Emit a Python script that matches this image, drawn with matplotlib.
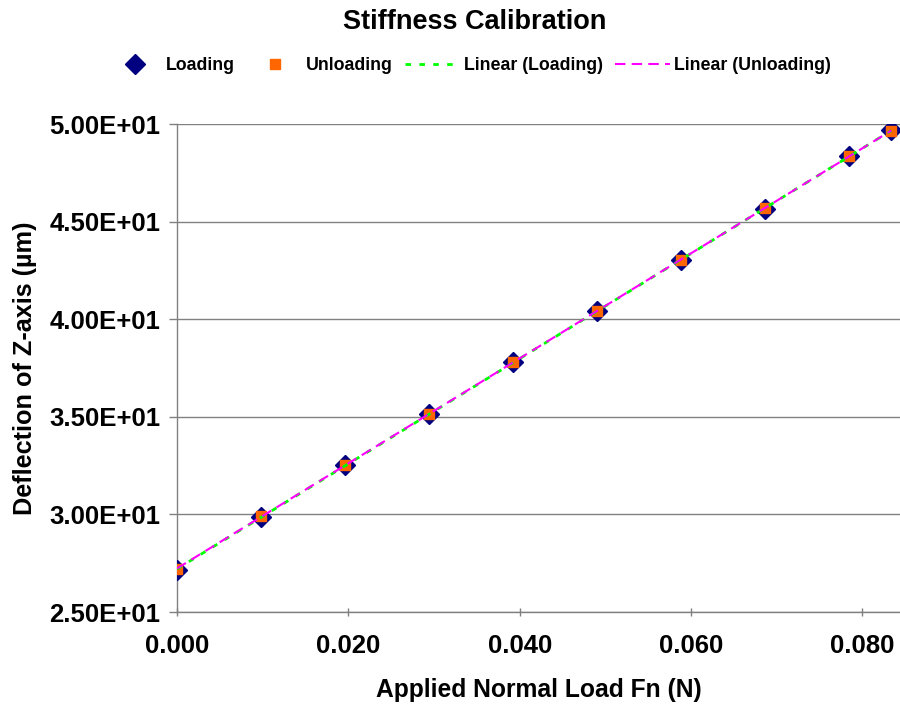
import numpy as np
import matplotlib
matplotlib.use("Agg")
import matplotlib.pyplot as plt
from matplotlib.ticker import FuncFormatter

# applied load (N) and Z-axis deflection (um)
load = [0.0, 0.00981, 0.01962, 0.02943, 0.03924, 0.04905, 0.05886, 0.06867, 0.07848, 0.08339]
loading = [27.15, 29.88, 32.53, 35.13, 37.80, 40.41, 43.03, 45.67, 48.35, 49.68]
unloading = [27.18, 29.90, 32.55, 35.15, 37.81, 40.42, 43.05, 45.69, 48.36, 49.66]

plt.rcParams['font.family'] = ['Liberation Sans', 'DejaVu Sans']
plt.rcParams['font.weight'] = 'bold'

fig = plt.figure(figsize=(9, 7.09), dpi=100)
ax = fig.add_axes([0.1967, 0.1368, 0.8033, 0.6883])

ax.plot(load, loading, linestyle='none', marker='D', markersize=10,
        color='#000080', label='Loading', zorder=3)
ax.plot(load, unloading, linestyle='none', marker='s', markersize=7,
        color='#FF6600', label='Unloading', zorder=4)

# least-squares trend lines for both series
x = np.array(load)
p_load = np.polyfit(x, loading, 1)
p_unload = np.polyfit(x, unloading, 1)
xs = np.array([x[0], x[-1]])
ax.plot(xs, np.polyval(p_load, xs), color='#00FF00', linestyle=(0, (2, 3)),
        linewidth=2, label='Linear (Loading)', zorder=5)
ax.plot(xs, np.polyval(p_unload, xs), color='#FF00FF', linestyle=(0, (5, 3)),
        linewidth=1.5, label='Linear (Unloading)', zorder=6)

ax.set_xlim(0, 0.0844)
ax.set_ylim(25, 50)
ax.set_xticks([0.0, 0.02, 0.04, 0.06, 0.08])
ax.set_yticks(np.arange(25, 50.1, 5))
ax.xaxis.set_major_formatter(FuncFormatter(lambda v, p: f"{v:.3f}"))
ax.yaxis.set_major_formatter(FuncFormatter(lambda v, p: f"{v:.2E}"))
ax.tick_params(axis='both', color='#808080', length=6, width=1, labelsize=18.5)
ax.tick_params(axis='x', direction='inout', pad=13)
ax.tick_params(axis='y', direction='out', pad=6)

ax.grid(axis='y', color='#808080', linewidth=1)
ax.set_axisbelow(True)
for side in ['top', 'right']:
    ax.spines[side].set_visible(False)
for side in ['left', 'bottom']:
    ax.spines[side].set_color('#808080')
    ax.spines[side].set_linewidth(1)

ax.set_xlabel('Applied Normal Load Fn (N)', fontsize=17.7, fontweight='bold', labelpad=14)
ax.set_ylabel('Deflection of Z-axis (\u00b5m)', fontsize=18.2, fontweight='bold', labelpad=9)

fig.suptitle('Stiffness Calibration', x=0.527, y=0.988, fontsize=19.5, fontweight='bold')
fig.legend(loc='center', bbox_to_anchor=(0.521, 0.908), ncol=4, frameon=False,
           fontsize=12.8, handlelength=3.1, columnspacing=0.67, handletextpad=0.22)

fig.savefig('out.png', dpi=100)
